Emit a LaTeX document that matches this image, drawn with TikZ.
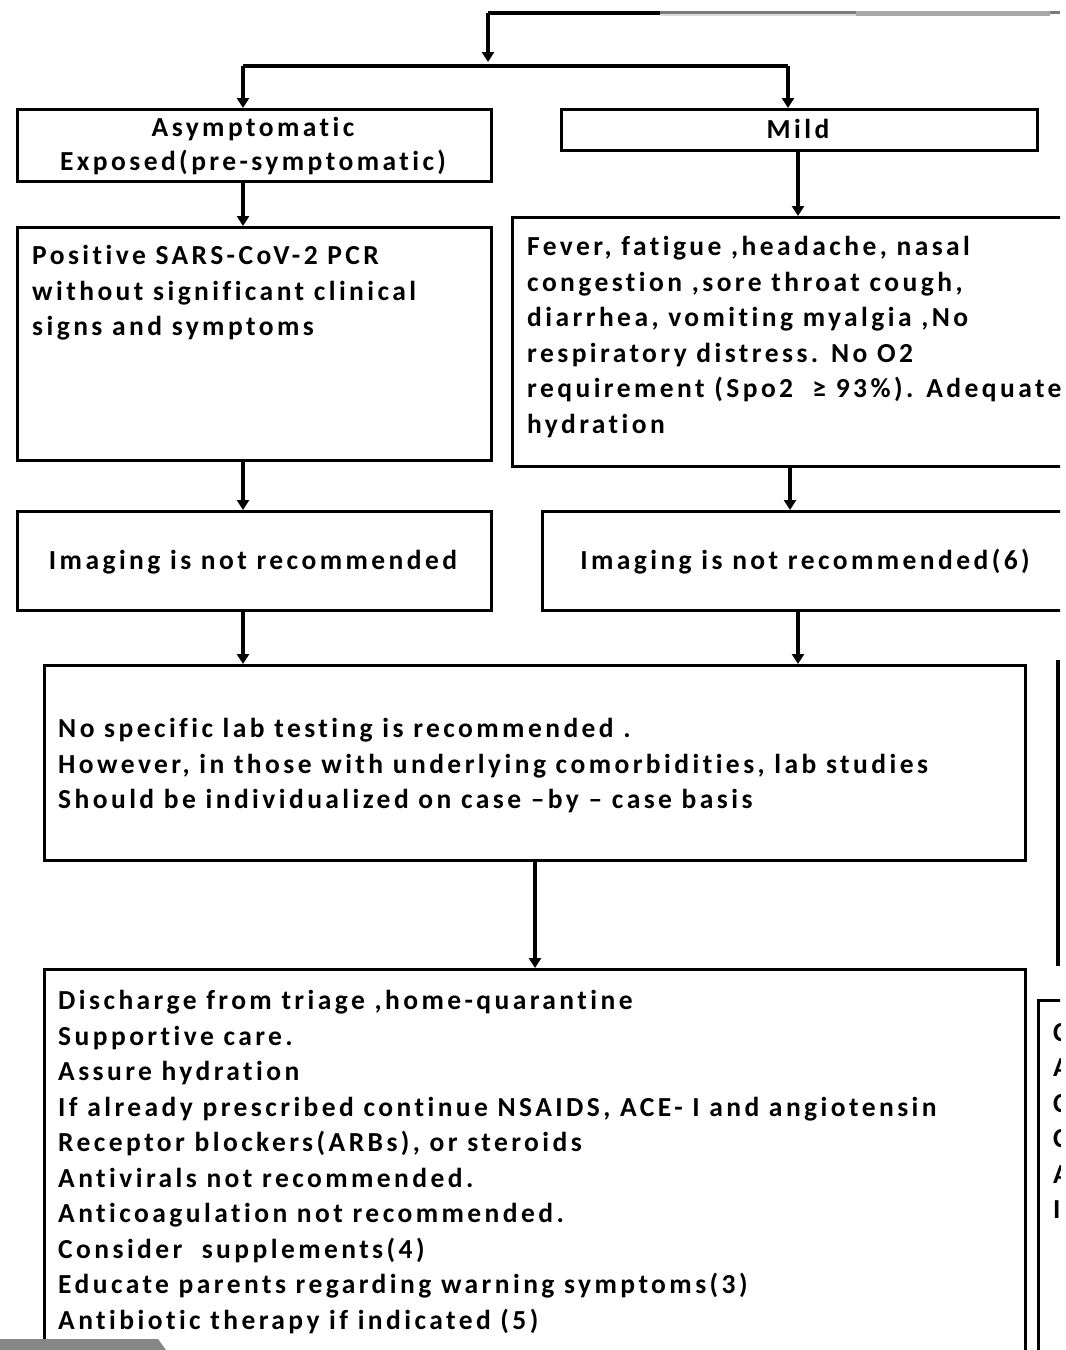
\documentclass[tikz,border=0pt]{standalone}
\usepackage{fontspec}
\usetikzlibrary{arrows.meta}
\newfontfamily\boxfont{Carlito}[LetterSpace=12.5, Ligatures=NoCommon]
\begin{document}
\begin{tikzpicture}[x=1pt,y=-1pt,
  box/.style={draw, line width=3.4pt, rectangle, anchor=north west, inner sep=0pt},
  lbl/.style={font=\boxfont\bfseries\fontsize{27.5}{35.5}\selectfont, align=left, anchor=north west, inner sep=0pt},
  ctr/.style={font=\boxfont\bfseries\fontsize{27.5}{33.5}\selectfont, align=center, inner sep=0pt},
  arr/.style={line width=3.4pt, -{Triangle[width=12pt,length=10pt]}},
  ln/.style={line width=3.4pt}]
\useasboundingbox (0,0) rectangle (1066,1350);
\fill[white] (0,0) rectangle (1066,1350);
\begin{scope}
\clip (0,0) rectangle (1060,1350);

% column guides
\coordinate (top) at (488,13);
\coordinate (topend) at (660,13);
\coordinate (split) at (488,62);
\coordinate (hl) at (243,66);
\coordinate (hr) at (788,66);
\coordinate (cl) at (243,0);
\coordinate (cr) at (798,0);
\coordinate (cm) at (790,0);
\coordinate (cc) at (535,0);

% boxes
\node[box, minimum width=474pt, minimum height=72pt] (asym) at (16,108) {};
\node[box, minimum width=476pt, minimum height=41pt] (mild) at (560,108) {};
\node[box, minimum width=474pt, minimum height=233pt] (pcr) at (16,226) {};
\node[box, minimum width=580pt, minimum height=249pt] (symp) at (511,216) {};
\node[box, minimum width=474pt, minimum height=99pt] (imgl) at (16,510) {};
\node[box, minimum width=540pt, minimum height=99pt] (imgr) at (541,510) {};
\node[box, minimum width=981pt, minimum height=195pt] (lab) at (43,664) {};
\node[box, minimum width=981pt, minimum height=450pt] (care) at (43,968) {};
\node[box, minimum width=100pt, minimum height=450pt] (side) at (1037,999) {};
\coordinate (sidetop) at (1058,660);
\coordinate (sidebot) at (1058,966);

% texts
\node[ctr] (asymt) at (253,146) {Asymptomatic\\Exposed(pre-symptomatic)};
\node[ctr] (mildt) at (798,129) {Mild};
\node[lbl] (pcrt) at (32,245) {Positive SARS-CoV-2 PCR\\without significant clinical\\signs and symptoms};
\node[lbl] (sympt) at (527,236) {Fever, fatigue ,headache, nasal\\congestion ,sore throat cough,\\diarrhea, vomiting myalgia ,No\\respiratory distress. No O2\\requirement (Spo2 \ ≥ 93\%). Adequate\\hydration};
\node[ctr] (imglt) at (253,562) {Imaging is not recommended};
\node[ctr] (imgrt) at (805,562) {Imaging is not recommended(6)};
\node[lbl] (labt) at (58,718) {No specific lab testing is recommended .\\However, in those with underlying comorbidities, lab studies\\Should be individualized on case –by – case basis};
\node[lbl] (caret) at (58,990) {Discharge from triage ,home-quarantine\\Supportive care.\\Assure hydration\\If already prescribed continue NSAIDS, ACE- I and angiotensin\\Receptor blockers(ARBs), or steroids\\Antivirals not recommended.\\Anticoagulation not recommended.\\Consider \ supplements(4)\\Educate parents regarding warning symptoms(3)\\Antibiotic therapy if indicated (5)};
\node[lbl] (sidet) at (1053,1023) {C\\A\\C\\C\\A\\I};

% connectors
\draw[ln] (topend) -- (top);
\draw[arr] (top) -- (split);
\draw[ln] (hl) -- (hr);
\draw[arr] (hl) -- (asym.north -| cl);
\draw[arr] (hr) -- (mild.north -| hr);
\draw[arr] (asym.south -| cl) -- (pcr.north -| cl);
\draw[arr] (mild.south -| cr) -- (symp.north -| cr);
\draw[arr] (pcr.south -| cl) -- (imgl.north -| cl);
\draw[arr] (symp.south -| cm) -- (imgr.north -| cm);
\draw[arr] (imgl.south -| cl) -- (lab.north -| cl);
\draw[arr] (imgr.south -| cr) -- (lab.north -| cr);
\draw[arr] (lab.south -| cc) -- (care.north -| cc);
\draw[ln] (sidetop) -- (sidebot);
\end{scope}

% faded rules at the page edges
\fill[black!52] (660,11) rectangle (856,13.5);
\fill[black!14] (660,13.5) rectangle (856,16);
\fill[black!34] (856,11) rectangle (1050,16);
\fill[black!52] (1050,11) rectangle (1060,14);
\fill[black!47] (0,1339) -- (158,1339) -- (166,1350) -- (0,1350) -- cycle;
\end{tikzpicture}
\end{document}
